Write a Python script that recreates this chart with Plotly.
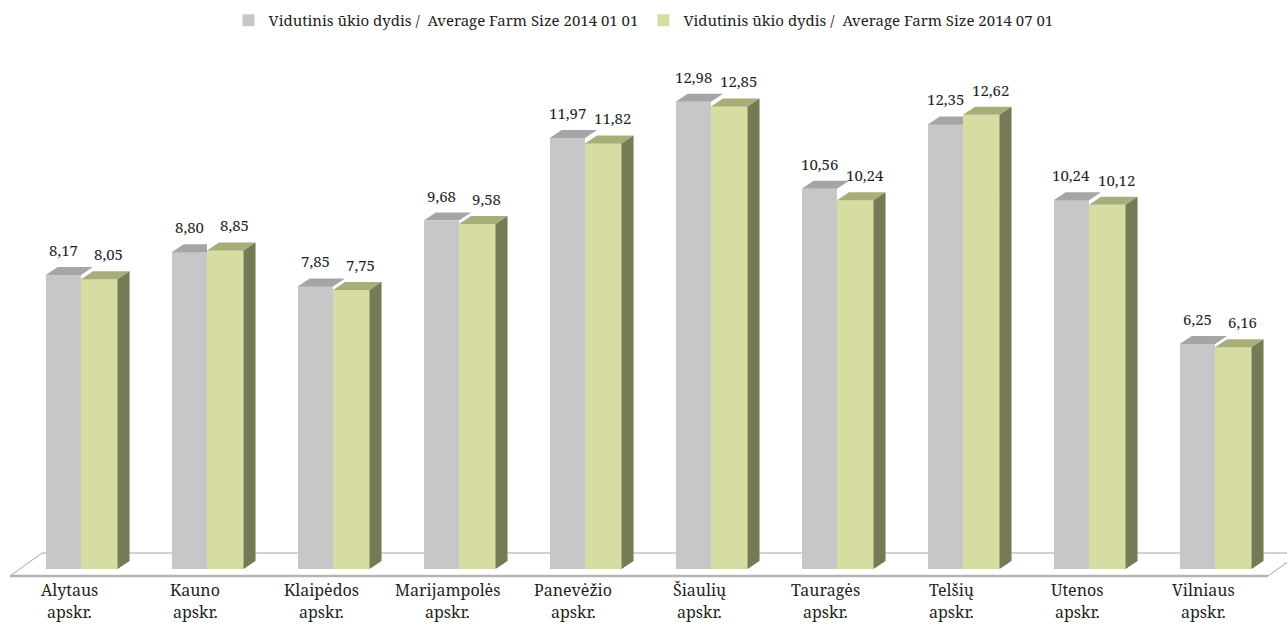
import plotly.graph_objects as go

categories = ["Alytaus", "Kauno", "Klaipėdos", "Marijampolės", "Panevėžio",
              "Šiaulių", "Tauragės", "Telšių", "Utenos", "Vilniaus"]
sub_label = "apskr."
jan_values = [8.17, 8.80, 7.85, 9.68, 11.97, 12.98, 10.56, 12.35, 10.24, 6.25]
jul_values = [8.05, 8.85, 7.75, 9.58, 11.82, 12.85, 10.24, 12.62, 10.12, 6.16]
series_names = ["Vidutinis ūkio dydis /  Average Farm Size 2014 01 01",
                "Vidutinis ūkio dydis /  Average Farm Size 2014 07 01"]

def fmt(v):
    return f"{v:.2f}".replace(".", ",")

# styling / geometry
W, H = 1287, 626
PX_PER_CAT = 126.0
PX_PER_UNIT = 36.0
X0_PX = 81.0
Y0_PX = 569.0
w_gray = 0.28
w_green = 0.29
dx = 12 / PX_PER_CAT
dy = 8 / PX_PER_UNIT

GRAY_FRONT = "#C6C7C9"
GRAY_TOP = "#A4A5A7"
GREEN_FRONT = "#D7DCA3"
GREEN_TOP = "#A8AE79"
GREEN_SIDE = "#767A55"
FONT = "Noto Serif"
TXT = "#231F20"

xr = [-X0_PX / PX_PER_CAT, (W - X0_PX) / PX_PER_CAT]
yr = [(Y0_PX - H) / PX_PER_UNIT, Y0_PX / PX_PER_UNIT]

n = len(categories)
idx = list(range(n))

fig = go.Figure()

fig.add_trace(go.Bar(x=[i - w_gray / 2 for i in idx], y=jan_values, width=w_gray,
                     marker=dict(color=GRAY_FRONT, line=dict(width=0)),
                     name=series_names[0], hoverinfo="skip"))

# gray top faces
gx, gy = [], []
for i, (vy, vg) in zip(idx, zip(jan_values, jul_values)):
    x0, b = i - w_gray, i
    if vy > vg:
        pts = [(x0, vy), (b, vy), (b + dx, vy + dy), (x0 + dx, vy + dy)]
    else:
        pts = [(x0, vy), (b, vy), (b, vy + dy), (x0 + dx, vy + dy)]
    pts.append(pts[0])
    gx += [p[0] for p in pts] + [None]
    gy += [p[1] for p in pts] + [None]
fig.add_trace(go.Scatter(x=gx, y=gy, mode="lines", fill="toself", fillcolor=GRAY_TOP,
                         line=dict(width=0, color=GRAY_TOP), showlegend=False, hoverinfo="skip"))

fig.add_trace(go.Bar(x=[i + w_green / 2 for i in idx], y=jul_values, width=w_green,
                     marker=dict(color=GREEN_FRONT, line=dict(width=0)),
                     name=series_names[1], hoverinfo="skip"))

tx, ty, sx, sy = [], [], [], []
for i, vg in zip(idx, jul_values):
    b, x1 = i, i + w_green
    pts = [(b, vg), (x1, vg), (x1 + dx, vg + dy), (b + dx, vg + dy), (b, vg)]
    tx += [p[0] for p in pts] + [None]
    ty += [p[1] for p in pts] + [None]
    pts = [(x1, 0), (x1, vg), (x1 + dx, vg + dy), (x1 + dx, dy), (x1, 0)]
    sx += [p[0] for p in pts] + [None]
    sy += [p[1] for p in pts] + [None]
fig.add_trace(go.Scatter(x=tx, y=ty, mode="lines", fill="toself", fillcolor=GREEN_TOP,
                         line=dict(width=0, color=GREEN_TOP), showlegend=False, hoverinfo="skip"))
fig.add_trace(go.Scatter(x=sx, y=sy, mode="lines", fill="toself", fillcolor=GREEN_SIDE,
                         line=dict(width=0, color=GREEN_SIDE), showlegend=False, hoverinfo="skip"))

annotations = []
for i, (vy, vg) in zip(idx, zip(jan_values, jul_values)):
    annotations.append(dict(x=i - w_gray / 2, y=vy + dy, text=fmt(vy), showarrow=False,
                            xanchor="center", yanchor="bottom", yshift=5,
                            font=dict(family=FONT, size=15, color=TXT)))
    annotations.append(dict(x=i + 0.22, y=vg + dy, text=fmt(vg), showarrow=False,
                            xanchor="center", yanchor="bottom", yshift=5,
                            font=dict(family=FONT, size=15, color=TXT)))
    annotations.append(dict(x=i - 0.092, y=(Y0_PX - 590) / PX_PER_UNIT, text=categories[i],
                            showarrow=False, xanchor="center", yanchor="middle",
                            font=dict(family=FONT, size=16, color=TXT)))
    annotations.append(dict(x=i - 0.092, y=(Y0_PX - 612) / PX_PER_UNIT, text=sub_label,
                            showarrow=False, xanchor="center", yanchor="middle",
                            font=dict(family=FONT, size=16, color=TXT)))

# floor (3D base)
def px2x(p):
    return (p - X0_PX) / PX_PER_CAT

def py2y(p):
    return (Y0_PX - p) / PX_PER_UNIT

fl, bl = px2x(10), px2x(42)
fr, br = px2x(1268), px2x(1300)
yf, yb = py2y(576), py2y(553)
shapes = [
    dict(type="path", xref="x", yref="y", layer="below",
         path=f"M{fl},{yf} L{bl},{yb} L{br},{yb} L{fr},{yf} Z",
         fillcolor="white", line=dict(color="#A6A6A6", width=1)),
    dict(type="line", xref="x", yref="y", layer="below",
         x0=fl, y0=yf, x1=fr, y1=yf, line=dict(color="#B4B4B4", width=2.5)),
]

fig.update_layout(
    width=W, height=H,
    margin=dict(l=0, r=0, t=0, b=0),
    paper_bgcolor="white", plot_bgcolor="white",
    font=dict(family=FONT, color=TXT),
    barmode="overlay", bargap=0,
    xaxis=dict(range=xr, visible=False, fixedrange=True),
    yaxis=dict(range=yr, visible=False, fixedrange=True),
    showlegend=True,
    legend=dict(orientation="h", x=0.5, xanchor="center", y=1 - 4 / H, yanchor="top",
                font=dict(family=FONT, size=15, color=TXT), itemwidth=30,
                bgcolor="rgba(0,0,0,0)"),
    annotations=annotations,
    shapes=shapes,
)

fig.write_html("out.html", config={"displayModeBar": False},
               post_script="document.body.style.margin='0px';document.body.style.overflow='hidden';")
